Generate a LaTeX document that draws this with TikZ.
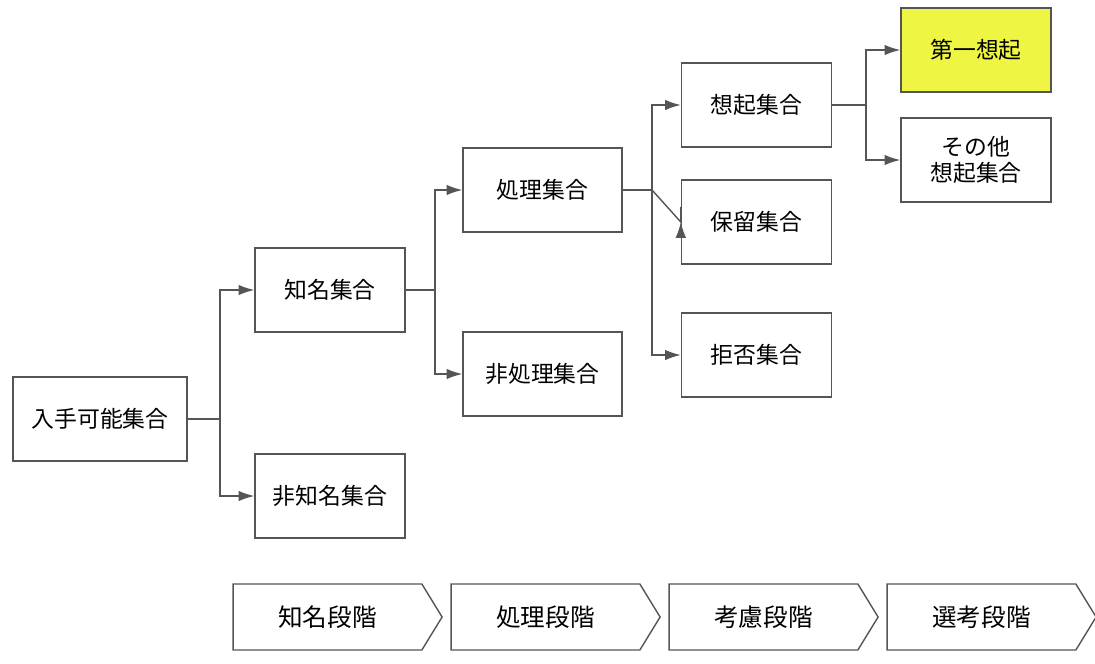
\documentclass[tikz,border=0pt]{standalone}
\usepackage{fontspec}
\newfontfamily\cjk{Noto Sans CJK JP}
\usetikzlibrary{shapes.symbols,arrows.meta}
\definecolor{edgegray}{HTML}{555555}
\definecolor{hiyellow}{HTML}{EEF542}
\tikzset{
  set/.style={draw=edgegray, thick, fill=white, minimum width=3cm, minimum height=1.68cm,
    font=\cjk\fontsize{13}{15}\selectfont, align=center, inner sep=1pt},
  stage/.style={draw=edgegray, thick, shape=signal, signal to=east, signal pointer angle=117,
    minimum width=4.18cm, minimum height=1.32cm, font=\cjk\fontsize{14}{16}\selectfont, inner sep=1pt},
  link/.style={draw=edgegray, thick, -{Latex[length=9pt,width=6pt]}},
  trunk/.style={draw=edgegray, thick}
}
\begin{document}
\begin{tikzpicture}[x=0.02cm, y=-0.02cm]
    \useasboundingbox (0,0) rectangle (1095,663);

    % Sets
    \node[set, minimum width=3.48cm] (avail) at (100,419) {入手可能集合};
    \node[set] (aware) at (330,290) {知名集合};
    \node[set] (unaware) at (330,496) {非知名集合};
    \node[set, minimum width=3.18cm] (proc) at (542.5,190) {処理集合};
    \node[set, minimum width=3.18cm] (unproc) at (542.5,374) {非処理集合};
    \node[set] (evoked) at (756.5,105) {想起集合};
    \node[set] (hold) at (756.5,222) {保留集合};
    \node[set] (reject) at (756.5,355) {拒否集合};
    \node[set, fill=hiyellow] (first) at (976,50) {第一想起};
    \node[set] (other) at (976,160) {その他\\想起集合};

    % Junctions
    \coordinate (j1) at (220,419);
    \coordinate (j2) at (435,290);
    \coordinate (j3) at (652,190);
    \coordinate (j4) at (866,105);

    % Connectors
    \draw[trunk] (avail) -- (j1);
    \draw[link] (j1) |- (aware);
    \draw[link] (j1) |- (unaware);
    \draw[trunk] (aware) -- (j2);
    \draw[link] (j2) |- (proc);
    \draw[link] (j2) |- (unproc);
    \draw[trunk] (proc) -- (j3);
    \draw[link] (j3) |- (evoked);
    \draw[link] (j3) -- (hold.west |- 0,222) -- (hold);
    \draw[link] (j3) |- (reject);
    \draw[trunk] (evoked) -- (j4);
    \draw[link] (j4) |- (first);
    \draw[link] (j4) |- (other);

    % Stages
    \node[stage] (s1) at (327.5,617) {知名段階};
    \node[stage] (s2) at (545.5,617) {処理段階};
    \node[stage] (s3) at (763.5,617) {考慮段階};
    \node[stage] (s4) at (981.5,617) {選考段階};
\end{tikzpicture}
\end{document}
